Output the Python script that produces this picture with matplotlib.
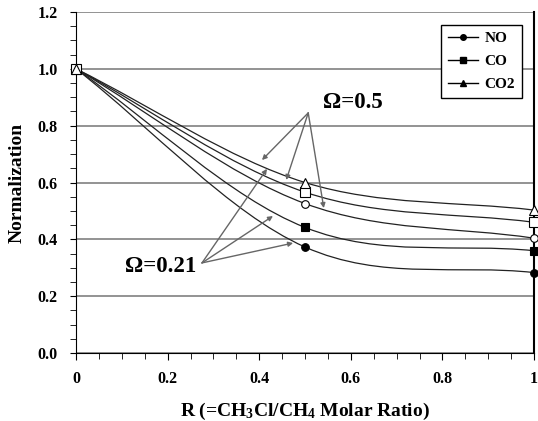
import numpy as np
import matplotlib
matplotlib.use("Agg")
import matplotlib.pyplot as plt
from matplotlib.path import Path
from matplotlib.patches import PathPatch
from matplotlib.lines import Line2D
from matplotlib.ticker import MultipleLocator, FormatStrFormatter

plt.rcParams['font.family'] = ['Liberation Serif', 'DejaVu Serif']
plt.rcParams['font.weight'] = 'bold'
plt.rcParams['mathtext.fontset'] = 'custom'
plt.rcParams['mathtext.rm'] = 'Liberation Serif:bold'
plt.rcParams['mathtext.default'] = 'regular'

# R values
r = [0.0, 0.5, 1.0]
# Omega = 0.21 (filled markers)
no_021 = [1.0, 0.373, 0.283]
co_021 = [1.0, 0.442, 0.360]
# Omega = 0.5 (open markers)
no_05 = [1.0, 0.526, 0.404]
co_05 = [1.0, 0.566, 0.460]
co2_05 = [1.0, 0.600, 0.503]

x_ticks = [0, 0.2, 0.4, 0.6, 0.8, 1]
x_tick_labels = ["0", "0.2", "0.4", "0.6", "0.8", "1"]


def smooth_path(xs, ys):
    # Excel-like smoothed line: cubic bezier through the points
    p = np.column_stack([xs, ys])
    n = len(p)
    verts = [p[0]]
    codes = [Path.MOVETO]
    for i in range(n - 1):
        if i == 0:
            c1 = p[i] + (p[i + 1] - p[i]) / 3
        else:
            c1 = p[i] + (p[i + 1] - p[i - 1]) / 6
        if i + 1 == n - 1:
            c2 = p[i + 1] - (p[i + 1] - p[i]) / 3
        else:
            c2 = p[i + 1] - (p[i + 2] - p[i]) / 6
        verts += [c1, c2, p[i + 1]]
        codes += [Path.CURVE4] * 3
    return Path(verts, codes)


fig = plt.figure(figsize=(5.38, 4.21), dpi=100)
ax = fig.add_axes([0.1413, 0.1615, 0.8513, 0.81])

series = [
    (no_021, 'o', 'black', 5.5),
    (co_021, 's', 'black', 6),
    (no_05, 'o', 'white', 5.5),
    (co_05, 's', 'white', 6.5),
    (co2_05, '^', 'white', 7),
]
for ys, mk, fc, ms in series:
    ax.add_patch(PathPatch(smooth_path(r, ys), facecolor='none',
                           edgecolor='#222222', lw=0.9, zorder=3))
    ax.plot(r, ys, linestyle='none', marker=mk, markerfacecolor=fc,
            markeredgecolor='black', markersize=ms, markeredgewidth=0.8,
            zorder=4, clip_on=False)

# annotations
arrow_kw = dict(arrowstyle='-|>', color='#666666', lw=1, mutation_scale=7,
                shrinkA=0, shrinkB=0)
for tip in [(0.406, 0.679), (0.459, 0.609), (0.541, 0.510)]:
    ax.annotate('', xy=tip, xytext=(0.507, 0.845), arrowprops=arrow_kw)
for tip in [(0.417, 0.648), (0.430, 0.482), (0.474, 0.387)]:
    ax.annotate('', xy=tip, xytext=(0.275, 0.317), arrowprops=arrow_kw)
ax.text(0.539, 0.880, 'Ω=0.5', fontsize=16.5, fontweight='bold',
        va='center', ha='left')
ax.text(0.107, 0.303, 'Ω=0.21', fontsize=16.5, fontweight='bold',
        va='center', ha='left')

ax.set_xlim(0, 1)
ax.set_ylim(0, 1.2)
ax.set_xticks(x_ticks)
ax.set_xticklabels(x_tick_labels)
ax.xaxis.set_minor_locator(MultipleLocator(0.05))
ax.yaxis.set_major_locator(MultipleLocator(0.2))
ax.yaxis.set_minor_locator(MultipleLocator(0.05))
ax.yaxis.set_major_formatter(FormatStrFormatter('%.1f'))
ax.tick_params(axis='both', which='both', direction='out', labelsize=11.5)
ax.tick_params(axis='x', which='major', length=5, pad=8)
ax.tick_params(axis='x', which='minor', length=4)
ax.tick_params(axis='y', which='major', length=4, pad=9)
ax.tick_params(axis='y', which='minor', length=4)
ax.grid(axis='y', which='major', color='#808080', lw=1.2)
ax.set_axisbelow(True)
ax.spines['top'].set_visible(False)
ax.spines['right'].set_linewidth(1.5)

ax.set_ylabel('Normalization', fontsize=14, fontweight='bold', labelpad=9)
ax.set_xlabel('R (=CH$_3$Cl/CH$_4$ Molar Ratio)', fontsize=14,
              fontweight='bold', labelpad=10)

handles = [
    Line2D([], [], color='black', lw=1, marker='o', markersize=4),
    Line2D([], [], color='black', lw=1, marker='s', markersize=4.5),
    Line2D([], [], color='black', lw=1, marker='^', markersize=5),
]
leg = ax.legend(handles, ['NO', 'CO', 'CO2'], loc='upper left',
                bbox_to_anchor=(0.78, 0.985), fancybox=False,
                edgecolor='black', framealpha=1,
                handlelength=2.0, labelspacing=0.6, borderpad=0.45,
                handletextpad=0.4, prop={'weight': 'bold', 'size': 11})
leg.get_frame().set_linewidth(1)

plt.savefig('out.png', dpi=100)
